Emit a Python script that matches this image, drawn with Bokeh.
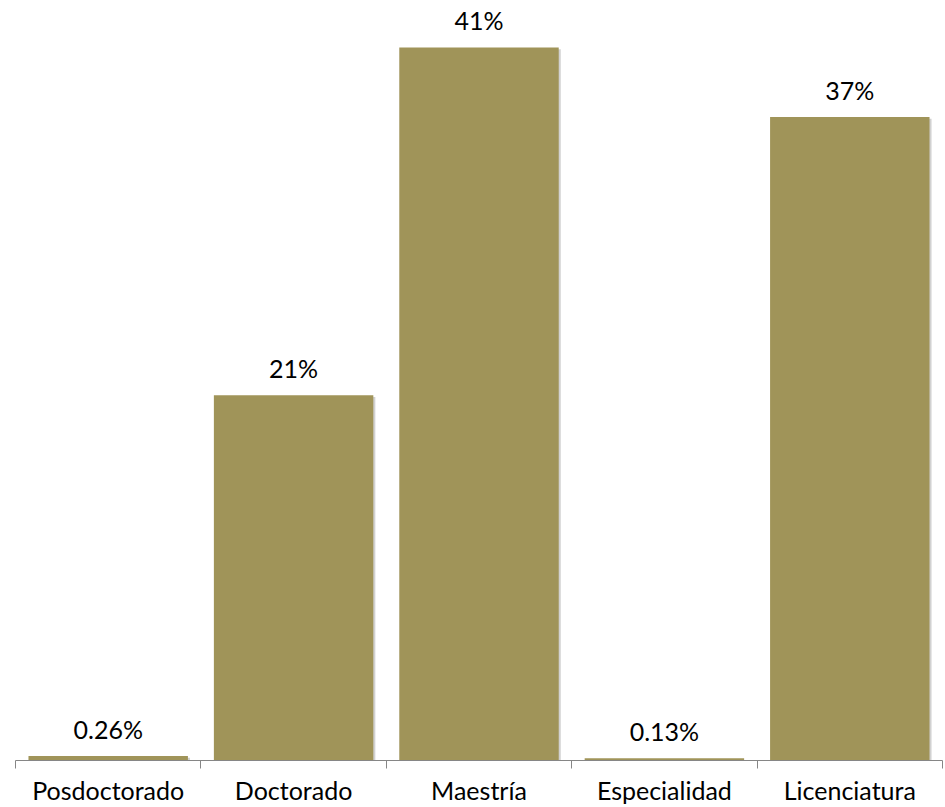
from bokeh.plotting import figure
from bokeh.models import ColumnDataSource, FixedTicker, Range1d
from bokeh.core.properties import value
from bokeh.embed import file_html
from bokeh.resources import INLINE

categories = ["Posdoctorado", "Doctorado", "Maestría", "Especialidad", "Licenciatura"]
values = [0.26, 21, 41, 0.13, 37]
value_labels = ["0.26%", "21%", "41%", "0.13%", "37%"]

centers = [i + 0.5 for i in range(len(categories))]
BAR_COLOR = "#A09459"
FONT = "Lato"

src = ColumnDataSource(dict(x=centers, top=values, label=value_labels))

p = figure(width=945, height=807, output_backend="svg", toolbar_location=None,
           x_range=Range1d(0, len(categories)), y_range=Range1d(0, 43.70),
           min_border_left=15, min_border_right=3, min_border_top=0, min_border_bottom=47)
p.outline_line_color = None
p.xgrid.visible = False
p.ygrid.visible = False
p.yaxis.visible = False
p.background_fill_color = "white"
p.border_fill_color = "white"

# subtle shadow
shadow_src = ColumnDataSource(dict(x=[c + 0.011 for c in centers], top=[v - 0.1 for v in values]))
p.vbar(x="x", top="top", width=0.86, bottom=-1, source=shadow_src,
       fill_color="#000000", fill_alpha=0.18, line_color=None)

p.vbar(x="x", top="top", width=0.86, bottom=0, source=src,
       fill_color=BAR_COLOR, line_color=None)

p.text(x="x", y="top", text="label", source=src, text_align="center",
       text_baseline="middle", y_offset=-27, text_font=value(FONT),
       text_font_size="25px", text_color="#000000")

ax = p.xaxis[0]
ax.ticker = FixedTicker(ticks=centers, minor_ticks=list(range(len(categories) + 1)))
ax.major_label_overrides = {c: n for c, n in zip(centers, categories)}
ax.major_tick_out = 0
ax.major_tick_in = 0
ax.minor_tick_out = 8
ax.minor_tick_in = 0
ax.minor_tick_line_color = "#868686"
ax.axis_line_color = "#868686"
ax.axis_line_width = 1
ax.major_label_standoff = 6
ax.major_label_text_font = FONT
ax.major_label_text_font_size = "25px"
ax.major_label_text_color = "#000000"

open("out.html", "w").write(file_html(p, INLINE))
